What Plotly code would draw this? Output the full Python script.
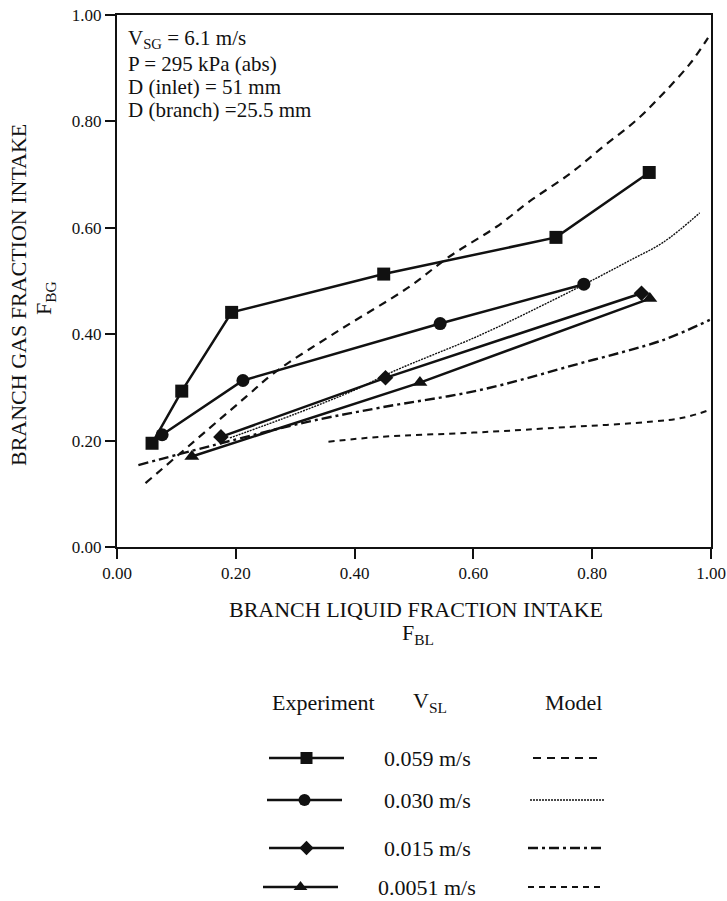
import plotly.graph_objects as go

# ---- experimental data: branch liquid fraction (F_BL) vs branch gas fraction (F_BG)
vsl_labels = ["0.059 m/s", "0.030 m/s", "0.015 m/s", "0.0051 m/s"]

exp_fbl_059 = [0.059, 0.109, 0.193, 0.449, 0.739, 0.896]
exp_fbg_059 = [0.195, 0.293, 0.441, 0.513, 0.582, 0.704]

exp_fbl_030 = [0.076, 0.212, 0.544, 0.786]
exp_fbg_030 = [0.211, 0.313, 0.420, 0.494]

exp_fbl_015 = [0.175, 0.452, 0.883]
exp_fbg_015 = [0.207, 0.318, 0.477]

exp_fbl_0051 = [0.126, 0.510, 0.897]
exp_fbg_0051 = [0.170, 0.309, 0.467]

# ---- model predictions
mod_fbl_059 = [0.048, 0.218, 0.263, 0.375, 0.488, 0.561, 0.639, 0.695, 0.763, 0.819, 0.875, 0.920, 0.965, 0.995]
mod_fbg_059 = [0.120, 0.283, 0.326, 0.408, 0.486, 0.547, 0.602, 0.650, 0.702, 0.753, 0.803, 0.853, 0.909, 0.957]

mod_fbl_030 = [0.190, 0.300, 0.400, 0.465, 0.611, 0.734, 0.808, 0.864, 0.920, 0.981]
mod_fbg_030 = [0.205, 0.250, 0.295, 0.330, 0.398, 0.464, 0.506, 0.539, 0.573, 0.628]

mod_fbl_015 = [0.036, 0.308, 0.443, 0.611, 0.779, 0.919, 0.998]
mod_fbg_015 = [0.154, 0.232, 0.262, 0.295, 0.345, 0.389, 0.427]

mod_fbl_0051 = [0.356, 0.443, 0.600, 0.723, 0.948, 0.998]
mod_fbg_0051 = [0.198, 0.207, 0.215, 0.223, 0.242, 0.258]

axis_ticks = [0.0, 0.2, 0.4, 0.6, 0.8, 1.0]

# ---- styles
FONT = "Liberation Serif"
BLACK = "#111111"
W, H = 727, 901
symbols = ["square", "circle", "diamond", "triangle-up"]
marker_sizes = [13, 13, 12, 13]
model_dash = ["8px,6px", "2px,1px", "10px,4px,3px,4px", "6px,5px"]
model_width = [2.2, 1.4, 2.4, 2.0]
TXT = dict(size=22, family=FONT, color=BLACK)

exp_sets = [(exp_fbl_059, exp_fbg_059), (exp_fbl_030, exp_fbg_030),
            (exp_fbl_015, exp_fbg_015), (exp_fbl_0051, exp_fbg_0051)]
mod_sets = [(mod_fbl_059, mod_fbg_059), (mod_fbl_030, mod_fbg_030),
            (mod_fbl_015, mod_fbg_015), (mod_fbl_0051, mod_fbg_0051)]


def px(x):
    return x / W


def py(y):
    return 1 - y / H


fig = go.Figure()

for i, (mx, my) in enumerate(mod_sets):
    fig.add_trace(go.Scatter(
        x=mx, y=my, mode="lines", line_shape="spline",
        line=dict(color=BLACK, width=model_width[i], dash=model_dash[i]),
        showlegend=False, hoverinfo="skip"))

for i, (ex, ey) in enumerate(exp_sets):
    fig.add_trace(go.Scatter(
        x=ex, y=ey, mode="lines+markers",
        line=dict(color=BLACK, width=2.5),
        marker=dict(symbol=symbols[i], size=marker_sizes[i], color=BLACK),
        showlegend=False))

# ---- custom legend drawn on its own axes (figure pixel coordinates)
leg_rows = [758, 800, 848, 887]
exp_x0, exp_x1 = [269, 267, 269, 263], [344, 342, 344, 338]
mod_x0, mod_x1 = [533, 530, 528, 528], [601, 605, 602, 602]
for i, row in enumerate(leg_rows):
    fig.add_trace(go.Scatter(
        x=[exp_x0[i], exp_x1[i]], y=[row, row], mode="lines",
        line=dict(color=BLACK, width=2.5), xaxis="x2", yaxis="y2",
        showlegend=False, hoverinfo="skip"))
    fig.add_trace(go.Scatter(
        x=[(exp_x0[i] + exp_x1[i]) / 2], y=[row], mode="markers",
        marker=dict(symbol=symbols[i], size=marker_sizes[i] - 1, color=BLACK),
        xaxis="x2", yaxis="y2", cliponaxis=False,
        showlegend=False, hoverinfo="skip"))
    fig.add_trace(go.Scatter(
        x=[mod_x0[i], mod_x1[i]], y=[row, row], mode="lines",
        line=dict(color=BLACK, width=model_width[i], dash=model_dash[i]),
        xaxis="x2", yaxis="y2", showlegend=False, hoverinfo="skip"))

annotations = []
for i, row in enumerate(leg_rows):
    annotations.append(dict(x=427, y=row, xref="x2", yref="y2", text=vsl_labels[i],
                            showarrow=False, font=TXT,
                            xanchor="center", yanchor="middle"))
for txt, xc in [("Experiment", 323), ("V<sub>SL</sub>", 430), ("Model", 573)]:
    annotations.append(dict(x=xc, y=702, xref="x2", yref="y2", text=txt,
                            showarrow=False, font=TXT,
                            xanchor="center", yanchor="middle"))

# ---- conditions box inside the plot
cond_lines = ["V<sub>SG</sub> = 6.1 m/s", "P = 295 kPa (abs)",
              "D (inlet) = 51 mm", "D (branch) =25.5 mm"]
cond_y = [39, 64, 87, 110]
for txt, yy in zip(cond_lines, cond_y):
    annotations.append(dict(x=px(126), y=py(yy), xref="paper", yref="paper", text=txt,
                            showarrow=False, font=dict(size=21, family=FONT, color=BLACK),
                            xanchor="left", yanchor="middle"))

# ---- axis titles
annotations.append(dict(x=px(416), y=py(609), xref="paper", yref="paper",
                        text="BRANCH LIQUID FRACTION INTAKE", showarrow=False,
                        font=TXT, xanchor="center", yanchor="middle"))
annotations.append(dict(x=px(418), y=py(634), xref="paper", yref="paper",
                        text="F<sub>BL</sub>", showarrow=False,
                        font=TXT, xanchor="center", yanchor="middle"))
annotations.append(dict(x=px(18), y=py(295), xref="paper", yref="paper",
                        text="BRANCH GAS FRACTION INTAKE", showarrow=False, textangle=-90,
                        font=TXT, xanchor="center", yanchor="middle"))
annotations.append(dict(x=px(45), y=py(298), xref="paper", yref="paper",
                        text="F<sub>BG</sub>", showarrow=False, textangle=-90,
                        font=TXT, xanchor="center", yanchor="middle"))

axis_common = dict(range=[0, 1], tickvals=axis_ticks,
                   ticktext=[f"{v:.2f}" for v in axis_ticks],
                   ticks="outside", ticklen=10, tickwidth=2, tickcolor=BLACK,
                   showline=True, linewidth=2, linecolor=BLACK, mirror=True,
                   showgrid=False, zeroline=False, automargin=False,
                   tickfont=dict(size=17, family=FONT, color=BLACK))

fig.update_layout(
    width=W, height=H,
    margin=dict(l=0, r=0, t=0, b=0, autoexpand=False),
    paper_bgcolor="white", plot_bgcolor="white",
    xaxis=dict(domain=[px(117), px(711)], **axis_common),
    yaxis=dict(domain=[py(547), py(15)], **axis_common),
    xaxis2=dict(domain=[0, 1], range=[0, W], visible=False, anchor="y2", automargin=False),
    yaxis2=dict(domain=[0, py(651)], range=[H, 651], visible=False, anchor="x2", automargin=False),
    annotations=annotations,
    font=dict(family=FONT, color=BLACK),
)

fig.write_html("out.html")
